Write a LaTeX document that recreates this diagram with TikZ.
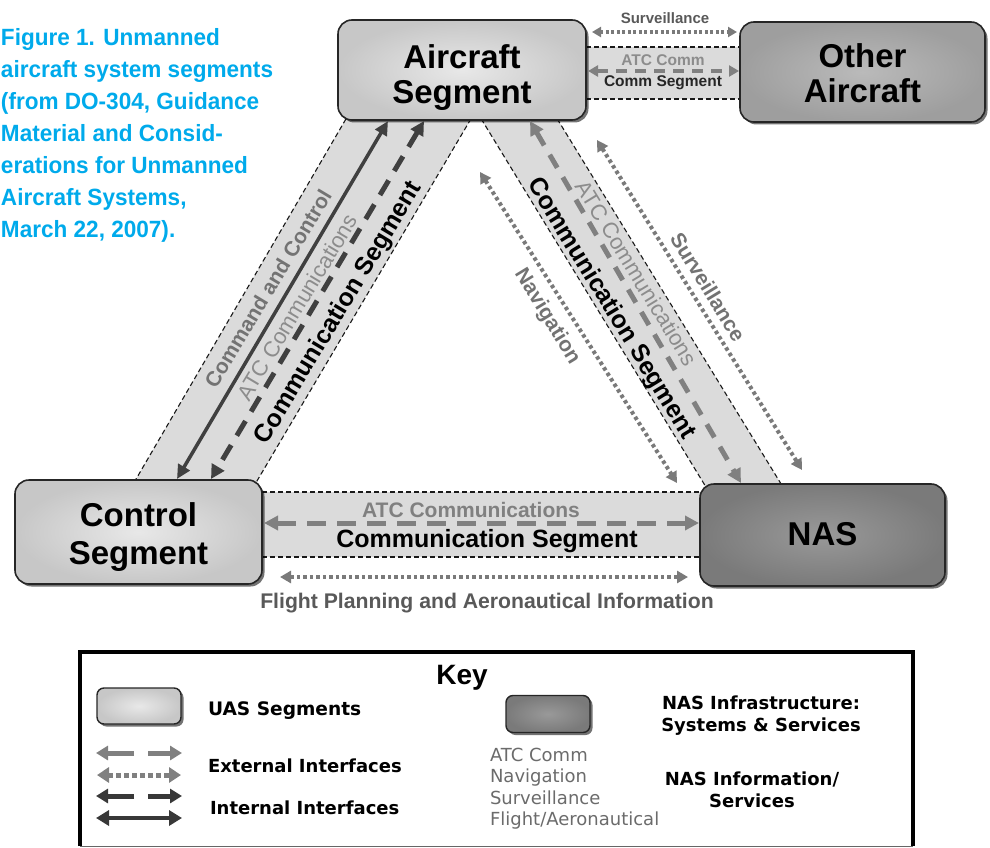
\documentclass[tikz,border=0pt]{standalone}
\usepackage{fontspec}
\setmainfont{Liberation Sans}
\newfontfamily\dejavu{DejaVu Sans}
\newfontfamily\capfont[FakeStretch=0.96]{Liberation Sans}
\usetikzlibrary{arrows.meta,shadows}
\definecolor{capblue}{RGB}{0,170,235}
\tikzset{
  every node/.style={inner sep=0pt, outer sep=0pt},
  boxbase/.style={rounded corners=14pt, draw=black!85, line width=1.6pt, shading=radial,
    drop shadow={shadow xshift=2.5pt,shadow yshift=-2.5pt,opacity=0.55,fill=black},
    align=center},
  segbox/.style={boxbase, inner color=black!9, outer color=black!22},
  otherbox/.style={boxbase, inner color=black!27, outer color=black!38},
  nasbox/.style={boxbase, inner color=black!40, outer color=black!52},
  bigtxt/.style={font=\bfseries\fontsize{33}{35}\selectfont, align=center, text depth=0pt},
  bandfill/.style={fill=black!14},
  bandedge/.style={draw=black!90, line width=1.1pt, dash pattern=on 5pt off 3pt},
  solidarr/.style={draw=black!75, line width=3.5pt, arrows={Triangle[length=14pt,width=13pt]-Triangle[length=14pt,width=13pt]}},
  darkdash/.style={draw=black!75, line width=5pt, dash pattern=on 17pt off 11pt, arrows={Triangle[length=14pt,width=14pt]-Triangle[length=14pt,width=14pt]}},
  graydash/.style={draw=black!50, line width=5pt, dash pattern=on 15pt off 11pt, arrows={Triangle[length=14pt,width=14pt]-Triangle[length=14pt,width=14pt]}},
  graydot/.style={draw=black!52, line width=4pt, dash pattern=on 3.5pt off 3pt, arrows={Triangle[length=11pt,width=12pt]-Triangle[length=11pt,width=12pt]}},
  smalldash/.style={draw=black!50, line width=4pt, dash pattern=on 11pt off 8pt, arrows={Triangle[length=10pt,width=11pt]-Triangle[length=10pt,width=11pt]}},
  smalldot/.style={draw=black!52, line width=3.5pt, dash pattern=on 3pt off 2.5pt, arrows={Triangle[length=9pt,width=10pt]-Triangle[length=9pt,width=10pt]}},
  graylbl/.style={text=black!55, font=\bfseries\fontsize{21}{24}\selectfont},
  atclbl/.style={text=black!45, font=\fontsize{22}{24}\selectfont},
  seglbl/.style={text=black, font=\bfseries\fontsize{25}{28}\selectfont},
  keytxt/.style={font=\dejavu\bfseries\fontsize{18}{22}\selectfont, align=center},
  keygray/.style={text=black!58, font=\dejavu\fontsize{18}{21.5}\selectfont, align=left, anchor=north west},
  keyarrow/.style={line width=5pt, arrows={-Triangle[length=12pt,width=14pt]}},
}
\begin{document}
\begin{tikzpicture}[x=1pt,y=-1pt]
\useasboundingbox (0,0) rectangle (990,848);

% caption
\node[anchor=north west, align=left, text=capblue, font=\capfont\bfseries\fontsize{23.5}{32}\selectfont] (caption) at (1,28)
 {Figure 1. Unmanned\\aircraft system segments\\(from DO-304, Guidance\\Material and Consid-\\erations for Unmanned\\Aircraft Systems,\\March 22, 2007).};

% communication segment bands
\fill[bandfill] (350,112) -- (475,112) -- (254,486) -- (132,486) -- cycle;
\draw[bandedge] (350,112) -- (132,486);
\draw[bandedge] (475,112) -- (254,486);
\fill[bandfill] (477,112) -- (553,112) -- (786,492) -- (709,492) -- cycle;
\draw[bandedge] (477,112) -- (709,492);
\draw[bandedge] (553,112) -- (786,492);
\fill[bandfill] (575,47) rectangle (750,99);
\draw[bandedge] (586,47) -- (740,47);
\draw[bandedge] (586,99) -- (740,99);
\fill[bandfill] (250,492) rectangle (710,557);
\draw[bandedge] (262,492) -- (700,492);
\draw[bandedge] (262,557) -- (700,557);

% segment boxes
\node[segbox, minimum width=248pt, minimum height=100pt] (air) at (462,70) {};
\node[otherbox, minimum width=245pt, minimum height=100pt] (oth) at (862.5,72) {};
\node[segbox, minimum width=247pt, minimum height=104pt] (ctl) at (138.5,532) {};
\node[nasbox, minimum width=245pt, minimum height=102pt] (nas) at (822.5,535) {};
\node[bigtxt] (airT) at (462,74.5) {Aircraft\\Segment};
\node[bigtxt] (othT) at (862.5,73.5) {Other\\Aircraft};
\node[bigtxt, font=\bfseries\fontsize{33}{38}\selectfont] (ctlT) at (138.5,534) {Control\\Segment};
\node[bigtxt] (nasT) at (822.5,534) {NAS};

% connector end points
\coordinate (ccA) at (388,121);  \coordinate (ccB) at (177,479);
\coordinate (laA) at (424,121);  \coordinate (laB) at (211,479);
\coordinate (raA) at (530,121);  \coordinate (raB) at (741,483);
\coordinate (nvA) at (480,172);  \coordinate (nvB) at (677,483);
\coordinate (svA) at (597,140);  \coordinate (svB) at (802,470);
\coordinate (tsA) at (592,32);   \coordinate (tsB) at (737,32);
\coordinate (taA) at (588,71);   \coordinate (taB) at (739,71);
\coordinate (baA) at (264,523);  \coordinate (baB) at (699,523);
\coordinate (fpA) at (280,577);  \coordinate (fpB) at (688,577);

% connectors
\draw[solidarr] (ccA) -- (ccB);
\draw[darkdash] (laA) -- (laB);
\draw[graydash] (raA) -- (raB);
\draw[graydot] (nvA) -- (nvB);
\draw[graydot] (svA) -- (svB);
\draw[smalldot] (tsA) -- (tsB);
\draw[smalldash] (taA) -- (taB);
\draw[graydash, dash pattern=on 19pt off 11pt] (baA) -- (baB);
\draw[graydot] (fpA) -- (fpB);

% labels
\node[graylbl, rotate=59] (lcc) at (268,289) {Command and Control};
\node[atclbl, rotate=59] (latc) at (297,307) {ATC Communications};
\node[seglbl, rotate=59] (lseg) at (339,313) {Communication Segment};
\node[atclbl, rotate=-58.6] (ratc) at (637,273) {ATC Communications};
\node[seglbl, rotate=-58.6] (rseg) at (611,309) {Communication Segment};
\node[graylbl, rotate=-58.6] (rnav) at (547,317) {Navigation};
\node[graylbl, rotate=-58.6] (rsur) at (708,287) {Surveillance};
\node[text=black!65, font=\bfseries\fontsize{15}{17}\selectfont] (tsur) at (665,18) {Surveillance};
\node[text=black!45, font=\bfseries\fontsize{15.5}{17}\selectfont] (tatc) at (663,60) {ATC Comm};
\node[text=black!85, font=\bfseries\fontsize{15.5}{17}\selectfont] (tseg) at (663,83) {Comm Segment};
\node[text=black!50, font=\bfseries\fontsize{21}{24}\selectfont] (batc) at (471,510) {ATC Communications};
\node[seglbl] (bseg) at (487,541) {Communication Segment};
\node[text=black!65, font=\bfseries\fontsize{21.2}{24}\selectfont] (bfp) at (487,603) {Flight Planning and Aeronautical Information};

% key
\draw[line width=4pt] (80,846) -- (80,652) -- (913,652) -- (913,846);
\draw[line width=1pt, draw=black!60] (80,846.5) -- (913,846.5);
\node[font=\bfseries\fontsize{28}{30}\selectfont] (key) at (462,678) {Key};
\node[segbox, rounded corners=7pt, minimum width=84pt, minimum height=36pt, line width=1.4pt] (kuas) at (139,706) {};
\node[nasbox, rounded corners=7pt, minimum width=84pt, minimum height=37pt, line width=1.4pt] (knas) at (548,714) {};
\node[keytxt, anchor=west, font=\dejavu\bfseries\fontsize{18.6}{22}\selectfont] (tuas) at (208,711) {UAS Segments};
\node[keytxt, anchor=west] (text) at (208,766) {External Interfaces};
\node[keytxt, anchor=west] (tint) at (210,808) {Internal Interfaces};
\node[keytxt] (tinf) at (761,716) {NAS Infrastructure:\\Systems \& Services};
\node[keytxt] (tnis) at (752,790) {NAS Information/\\Services};
\node[keygray] (tlist) at (490,748) {ATC Comm\\Navigation\\Surveillance\\Flight/Aeronautical};

\coordinate (k1a) at (134,753); \coordinate (k1b) at (96,753);
\coordinate (k1c) at (148,753); \coordinate (k1d) at (182,753);
\coordinate (k2a) at (97,775);  \coordinate (k2b) at (181,775);
\coordinate (k3a) at (134,796); \coordinate (k3b) at (96,796);
\coordinate (k3c) at (148,796); \coordinate (k3d) at (182,796);
\coordinate (k4a) at (96,818);  \coordinate (k4b) at (182,818);
\draw[keyarrow, draw=black!50, fill=black!50] (k1a) -- (k1b);
\draw[keyarrow, draw=black!50, fill=black!50] (k1c) -- (k1d);
\draw[draw=black!50, line width=5pt, dash pattern=on 4.5pt off 3.5pt, arrows={Triangle[length=12pt,width=15pt]-Triangle[length=12pt,width=15pt]}] (k2a) -- (k2b);
\draw[keyarrow, draw=black!78] (k3a) -- (k3b);
\draw[keyarrow, draw=black!78] (k3c) -- (k3d);
\draw[draw=black!78, line width=4.5pt, arrows={Triangle[length=13pt,width=15pt]-Triangle[length=13pt,width=15pt]}] (k4a) -- (k4b);
\end{tikzpicture}
\end{document}
